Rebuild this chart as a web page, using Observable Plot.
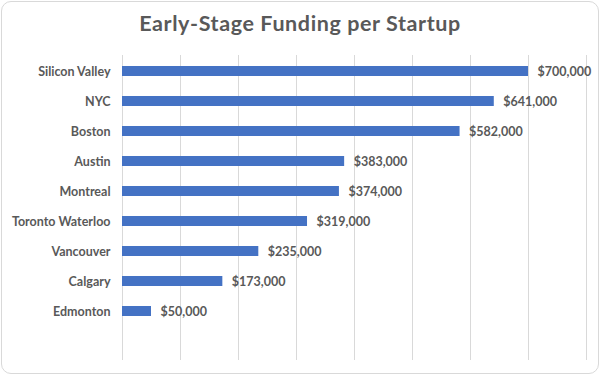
<!DOCTYPE html>
<html>
<head>
<meta charset="utf-8">
<script src="https://cdn.jsdelivr.net/npm/d3@7"></script>
<script src="https://cdn.jsdelivr.net/npm/@observablehq/plot@0.6"></script>
<style>
  html, body { margin: 0; padding: 0; background: #fff; }
  #wrap { position: relative; width: 600px; height: 375px; overflow: hidden; font-family: Lato, "Open Sans", sans-serif; }
  #border { position: absolute; left: 1px; top: 1px; width: 596px; height: 371px; border: 1px solid #d9d9d9; border-radius: 10px; pointer-events: none; }
  #title { position: absolute; left: 0; top: 9px; width: 600px; text-align: center; font-size: 21.5px; font-weight: 700; letter-spacing: 0.6px; color: #595959; line-height: 28px; }
  #chart { position: absolute; left: 0; top: 45px; }
  #chart svg { display: block; }
</style>
</head>
<body>
<div id="wrap">
  <div id="title">Early-Stage Funding per Startup</div>
  <div id="chart"></div>
  <div id="border"></div>
</div>
<script>
const cities = ["Silicon Valley", "NYC", "Boston", "Austin", "Montreal", "Toronto Waterloo", "Vancouver", "Calgary", "Edmonton"];
const funding = [700000, 641000, 582000, 383000, 374000, 319000, 235000, 173000, 50000];
const xTicks = [0, 100000, 200000, 300000, 400000, 500000, 600000, 700000, 800000];

const data = cities.map((c, i) => ({city: c, value: funding[i]}));
const fmt = v => "$" + d3.format(",")(v);

const plot = Plot.plot({
  width: 600,
  height: 330,
  marginTop: 10,
  marginBottom: 15,
  marginLeft: 122,
  marginRight: 14,
  style: {fontFamily: "Lato, 'Open Sans', sans-serif", color: "#595959", background: "transparent"},
  x: {domain: [0, 800000], ticks: xTicks, axis: null},
  y: {domain: cities, range: [9, 283.5], paddingInner: 0.67, paddingOuter: 0.335, axis: null},
  marks: [
    Plot.gridX(xTicks, {stroke: "#d9d9d9", strokeOpacity: 1, strokeWidth: 1}),
    Plot.barX(data, {x: "value", y: "city", fill: "#4472C4"}),
    Plot.text(data, {x: 0, y: "city", text: "city", textAnchor: "end", dx: -12, fontSize: 12.5, fontWeight: 700, fill: "#595959"}),
    Plot.text(data, {x: "value", y: "city", text: d => fmt(d.value), textAnchor: "start", dx: 9, fontSize: 12.5, fontWeight: 700, fill: "#595959"})
  ]
});
document.getElementById("chart").appendChild(plot);
</script>
</body>
</html>
